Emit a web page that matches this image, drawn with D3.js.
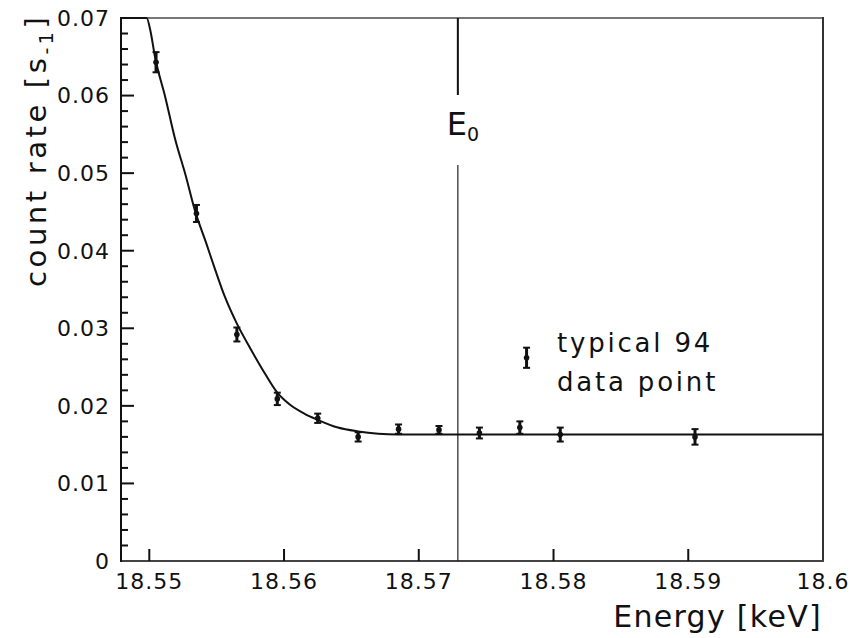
<!DOCTYPE html>
<html>
<head>
<meta charset="utf-8">
<script src="https://cdn.jsdelivr.net/npm/d3@7"></script>
<style>
  html, body { margin: 0; padding: 0; background: #fff; }
  svg text { font-family: "DejaVu Sans", "Liberation Sans", sans-serif; fill: #111; }
</style>
</head>
<body>
<svg id="chart" width="854" height="638"></svg>
<script>
// ---- data ----
const energies = [18.5505, 18.5535, 18.5565, 18.5595, 18.5625, 18.5655, 18.5685, 18.5715, 18.5745, 18.5775, 18.5805, 18.5905];
const rates    = [0.0643, 0.0448, 0.0292, 0.0209, 0.0184, 0.0160, 0.0170, 0.0169, 0.0165, 0.0172, 0.0163, 0.0160];
const errors   = [0.0013, 0.0011, 0.0009, 0.0008, 0.0006, 0.0006, 0.0006, 0.0005, 0.0007, 0.0008, 0.0009, 0.0010];

// fitted curve
const curveE = [18.5479, 18.5498, 18.5501, 18.5504, 18.5512, 18.5519, 18.5527, 18.5534, 18.5542, 18.5549, 18.5556, 18.5565, 18.5575, 18.5584, 18.5595, 18.5604, 18.5615, 18.5625, 18.5640, 18.5655, 18.5670, 18.5684, 18.6000];
const curveR = [0.0700, 0.0700, 0.0682, 0.0652, 0.0597, 0.0545, 0.0497, 0.0451, 0.0411, 0.0375, 0.0341, 0.0306, 0.0274, 0.0247, 0.0217, 0.0202, 0.0190, 0.0182, 0.0172, 0.0167, 0.0164, 0.0163, 0.0163];

// typical data point
const typicalE = [18.578];
const typicalR = [0.0262];
const typicalErr = [0.0013];

const e0 = 18.5729;

const xTicks = [18.55, 18.56, 18.57, 18.58, 18.59, 18.6];
const xTickLabels = ["18.55", "18.56", "18.57", "18.58", "18.59", "18.6"];
const yTicks = [0, 0.01, 0.02, 0.03, 0.04, 0.05, 0.06, 0.07];
const yTickLabels = ["0", "0.01", "0.02", "0.03", "0.04", "0.05", "0.06", "0.07"];
const yMinorTicks = [0.002, 0.004, 0.006, 0.008, 0.012, 0.014, 0.016, 0.018, 0.022, 0.024, 0.026, 0.028,
  0.032, 0.034, 0.036, 0.038, 0.042, 0.044, 0.046, 0.048, 0.052, 0.054, 0.056, 0.058, 0.062, 0.064, 0.066, 0.068];

// ---- layout ----
const L = 121, R = 823, T = 18, B = 561;
const svg = d3.select("#chart");
const x = d3.scaleLinear().domain([18.5479, 18.6]).range([L, R]);
const y = d3.scaleLinear().domain([0, 0.07]).range([B, T]);

// frame
svg.append("rect").attr("x", L).attr("y", T - 1).attr("width", R - L).attr("height", 2).attr("fill", "#777");
svg.append("rect").attr("x", R - 1).attr("y", T - 1).attr("width", 2).attr("height", B - T + 2).attr("fill", "#333");
svg.append("rect").attr("x", L - 1).attr("y", B - 1).attr("width", R - L + 2).attr("height", 2).attr("fill", "#444");
svg.append("rect").attr("x", L - 1).attr("y", T - 1).attr("width", 2).attr("height", B - T + 2).attr("fill", "#111");

// y ticks (inward)
svg.append("g").selectAll("rect").data(yMinorTicks).join("rect")
  .attr("x", L).attr("y", d => y(d) - 1).attr("width", 7).attr("height", 2).attr("fill", "#111");
svg.append("g").selectAll("rect").data(yTicks.filter(d => d > 0 && d < 0.07)).join("rect")
  .attr("x", L).attr("y", d => y(d) - 1).attr("width", 13).attr("height", 2).attr("fill", "#111");
svg.append("g").selectAll("text").data(yTicks).join("text")
  .attr("x", L - 11).attr("y", d => y(d)).attr("dy", "0.36em")
  .attr("text-anchor", "end").attr("font-size", 22).attr("letter-spacing", 1)
  .text((d, i) => yTickLabels[i]);

// x ticks (inward)
svg.append("g").selectAll("rect").data(xTicks.filter(d => d < 18.6)).join("rect")
  .attr("x", d => x(d) - 1).attr("y", B - 12).attr("width", 2).attr("height", 12).attr("fill", "#111");
svg.append("g").selectAll("text").data(xTicks).join("text")
  .attr("x", d => x(d)).attr("y", B + 28)
  .attr("text-anchor", "middle").attr("font-size", 22).attr("letter-spacing", 1)
  .text((d, i) => xTickLabels[i]);

// E0 line
svg.append("rect").attr("x", x(e0) - 1).attr("y", T).attr("width", 2).attr("height", 95 - T).attr("fill", "#111");
svg.append("rect").attr("x", x(e0) - 0.6).attr("y", 165).attr("width", 1.2).attr("height", B - 165).attr("fill", "#222");
const e0t = svg.append("text").attr("x", x(e0) - 11).attr("y", 135).attr("font-size", 32);
e0t.append("tspan").text("E");
e0t.append("tspan").attr("font-size", 19).attr("dy", 6).text("0");

// fitted curve
const curvePts = curveE.map((e, i) => [e, curveR[i]]);
svg.append("path").datum(curvePts)
  .attr("d", d3.line().x(d => x(d[0])).y(d => y(d[1])).curve(d3.curveMonotoneX))
  .attr("fill", "none").attr("stroke", "#111").attr("stroke-width", 2);

// data points with error bars
function drawPoints(es, rs, errs) {
  const g = svg.append("g");
  const pts = es.map((e, i) => ({ e, r: rs[i], s: errs[i] }));
  const grp = g.selectAll("g").data(pts).join("g");
  grp.append("line").attr("x1", d => x(d.e)).attr("x2", d => x(d.e))
    .attr("y1", d => y(d.r + d.s)).attr("y2", d => y(d.r - d.s))
    .attr("stroke", "#111").attr("stroke-width", 3);
  grp.append("line").attr("x1", d => x(d.e) - 3.5).attr("x2", d => x(d.e) + 3.5)
    .attr("y1", d => y(d.r + d.s)).attr("y2", d => y(d.r + d.s))
    .attr("stroke", "#111").attr("stroke-width", 2);
  grp.append("line").attr("x1", d => x(d.e) - 3.5).attr("x2", d => x(d.e) + 3.5)
    .attr("y1", d => y(d.r - d.s)).attr("y2", d => y(d.r - d.s))
    .attr("stroke", "#111").attr("stroke-width", 2);
  grp.append("circle").attr("cx", d => x(d.e)).attr("cy", d => y(d.r)).attr("r", 2.8).attr("fill", "#111");
}
drawPoints(energies, rates, errors);
drawPoints(typicalE, typicalR, typicalErr);

// legend text
svg.append("text").attr("x", 557).attr("y", 352).attr("font-size", 26).attr("letter-spacing", 2.8).text("typical 94");
svg.append("text").attr("x", 557).attr("y", 391).attr("font-size", 26).attr("letter-spacing", 2.8).text("data point");

// axis titles
svg.append("text").attr("x", 822).attr("y", 627).attr("text-anchor", "end")
  .attr("font-size", 30).attr("letter-spacing", 1.3).text("Energy [keV]");
const yt = svg.append("text").attr("transform", "translate(46,287) rotate(-90)")
  .attr("font-size", 29).attr("letter-spacing", 3.6);
yt.append("tspan").text("count rate [s");
yt.append("tspan").attr("font-size", 19).attr("dy", 7).text("-1");
yt.append("tspan").attr("dy", -7).text("]");
</script>
</body>
</html>
